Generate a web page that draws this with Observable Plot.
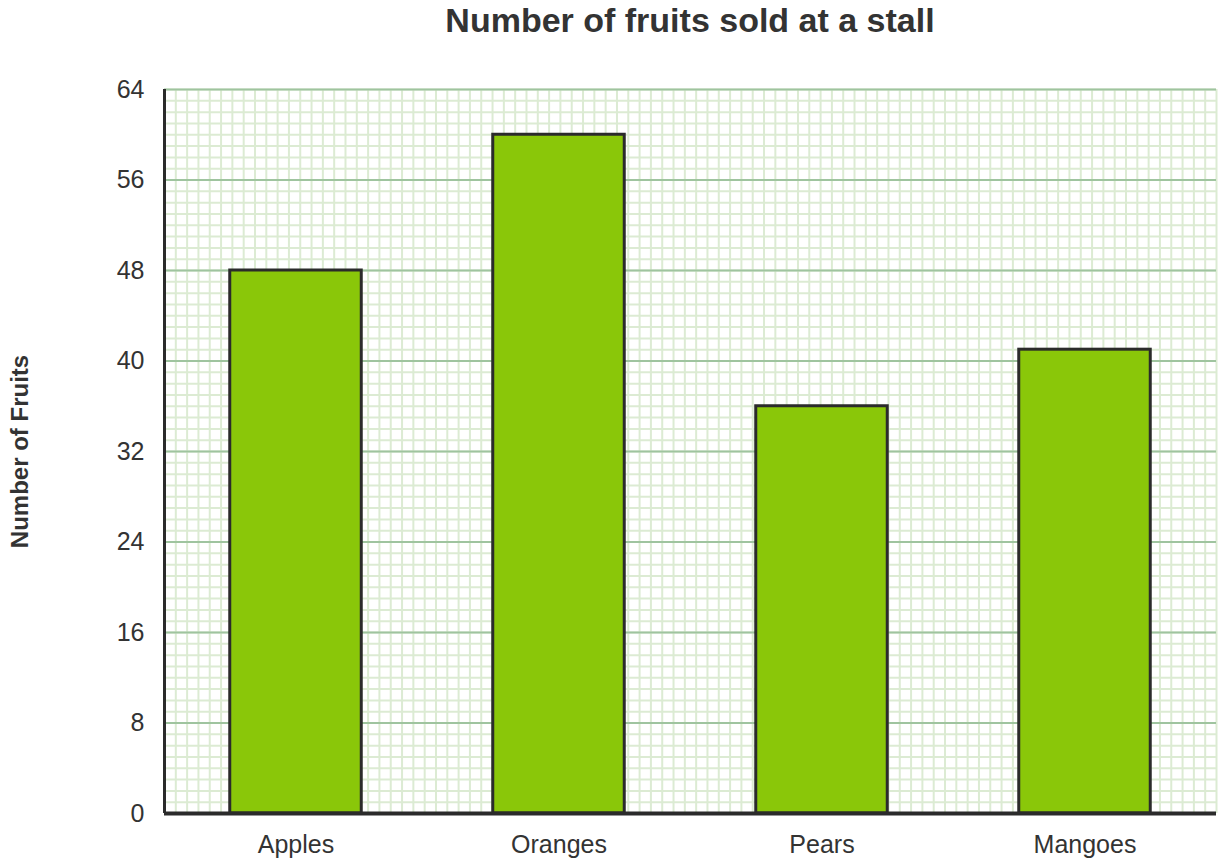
<!DOCTYPE html>
<html><head><meta charset="utf-8">
<script src="https://cdn.jsdelivr.net/npm/d3@7"></script>
<script src="https://cdn.jsdelivr.net/npm/@observablehq/plot@0.6"></script>
<style>
body{margin:0;background:#fff;font-family:"Liberation Sans",Arial,sans-serif;}
#title{height:52px;line-height:40px;font-size:34px;font-weight:bold;color:#333;text-align:center;padding-left:164px;padding-right:8px;box-sizing:border-box;width:1224px;}
#chart svg [aria-label="y-axis label"] text{font-weight:bold;font-size:24px;}
</style></head><body>
<div id="title">Number of fruits sold at a stall</div>
<div id="chart"></div>
<script>
const fruits = ["Apples", "Oranges", "Pears", "Mangoes"];
const counts = [48, 60, 36, 41];
const yTicks = [0, 8, 16, 24, 32, 40, 48, 56, 64];
const yMinor = d3.range(0, 65, 1);
const xMinorCount = 93;
const xMinor = d3.range(0, xMinorCount + 1).map(k => k * fruits.length / xMinorCount);
const data = fruits.map((f, i) => ({fruit: f, count: counts[i], i}));

const chart = Plot.plot({
  width: 1224,
  height: 814,
  marginTop: 37,
  marginBottom: 53,
  marginLeft: 164,
  marginRight: 8,
  style: {fontFamily: "Liberation Sans, Arial, sans-serif", color: "#333", background: "#fff"},
  x: {domain: [0, fruits.length]},
  y: {domain: [0, 64]},
  marks: [
    Plot.ruleY(yMinor, {stroke: "#dcebd3", strokeWidth: 2}),
    Plot.ruleX(xMinor, {y1: 0, y2: 64, stroke: "#dcebd3", strokeWidth: 2}),
    Plot.ruleY(yTicks.filter(v => v > 0), {stroke: "#9fc49f", strokeWidth: 2}),
    Plot.rectY(data, {x1: d => d.i + 0.25, x2: d => d.i + 0.75, y: "count", fill: "#8ac709", stroke: "#2b2b2b", strokeWidth: 3}),
    Plot.ruleX([0], {y1: 0, y2: 64, stroke: "#2b2b2b", strokeWidth: 3}),
    Plot.ruleY([0], {stroke: "#2b2b2b", strokeWidth: 4}),
    Plot.axisY({ticks: yTicks, tickSize: 0, tickPadding: 20, fontSize: 25, label: "Number of Fruits", labelAnchor: "center", labelArrow: false, labelOffset: 154}),
    Plot.axisX({ticks: fruits.map((f, i) => i + 0.5), tickFormat: v => fruits[Math.floor(v)], tickSize: 0, tickPadding: 22, fontSize: 25, label: null})
  ]
});
document.getElementById("chart").appendChild(chart);
</script>
</body></html>
